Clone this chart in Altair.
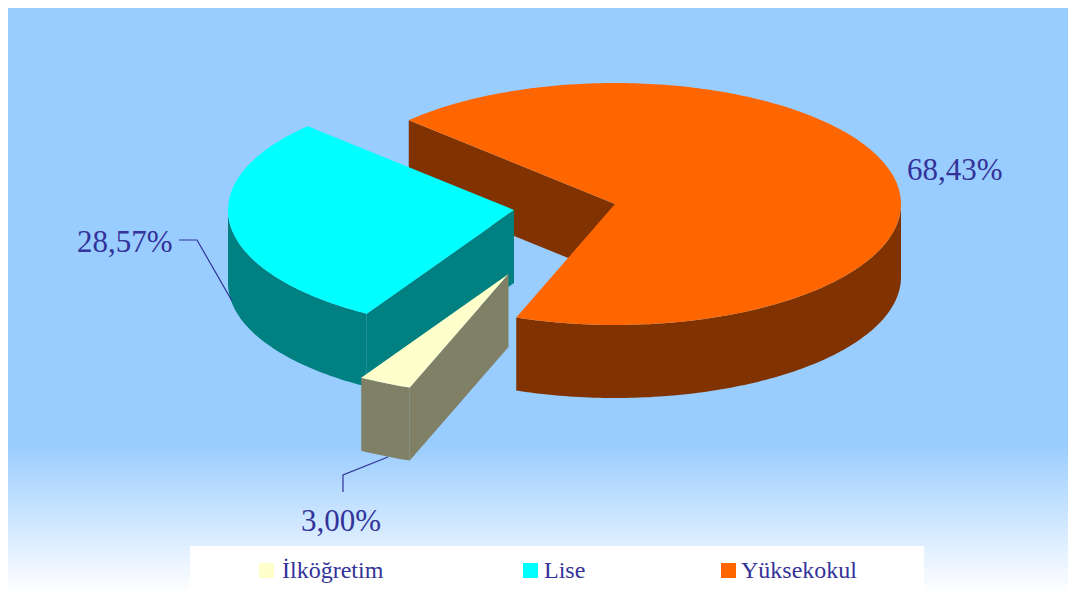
import math
import altair as alt

# ---- values ----
categories = ["İlköğretim", "Lise", "Yüksekokul"]
shares = [3.00, 28.57, 68.43]
labels = ["3,00%", "28,57%", "68,43%"]
top_colors = ["#FFFFCC", "#00FFFF", "#FF6600"]
side_colors = ["#808066", "#008080", "#803300"]

# ---- pie geometry (page pixels minus the 8px page margin) ----
M = 8
RX, RY, DEPTH = 286, 121, 73
START = 136.15  # degrees, counter-clockwise from +x, where Yüksekokul begins
apex = {"Yüksekokul": (615 - M, 204 - M), "Lise": (514 - M, 210 - M), "İlköğretim": (508.5 - M, 274 - M)}
W, H = 1060, 585
INK = "#333399"
FONT = "Liberation Serif"


def pt(c, deg, dy=0):
    a = math.radians(deg)
    return [c[0] + RX * math.cos(a), c[1] - RY * math.sin(a) + dy]


def arc(c, a0, a1, dy=0, step=1.0):
    n = max(2, int(abs(a1 - a0) / step) + 1)
    return [pt(c, a0 + (a1 - a0) * i / (n - 1), dy) for i in range(n)]


def feature(ring, **props):
    ring = [[round(x, 2), round(y, 2)] for x, y in ring]
    ring = ring + [ring[0]]
    return {"type": "Feature", "properties": props, "geometry": {"type": "Polygon", "coordinates": [ring]}}


# angular spans, clockwise, in drawing order of the circle
by = dict(zip(categories, zip(shares, top_colors, side_colors)))
spans = {}
ang = START
for name in ["Yüksekokul", "İlköğretim", "Lise"]:
    sweep = by[name][0] * 3.6
    spans[name] = (ang, ang - sweep)
    ang -= sweep

walls, tops = [], []


def add_wall(ring, col):
    walls.append(feature(ring, fill=col))


# Yüksekokul: back wall seen through the gap, then front rim
c = apex["Yüksekokul"]
a0, a1 = spans["Yüksekokul"]
s = by["Yüksekokul"][2]
p = pt(c, a0)
add_wall([p, c, [c[0], c[1] + DEPTH], [p[0], p[1] + DEPTH]], s)
add_wall(arc(c, a1, 0) + arc(c, 0, a1, DEPTH), s)

# Lise: front rim and cut face
c = apex["Lise"]
a0, a1 = spans["Lise"]
s = by["Lise"][2]
p = pt(c, a0)
add_wall(arc(c, a0, -180) + arc(c, -180, a0, DEPTH), s)
add_wall([c, p, [p[0], p[1] + DEPTH], [c[0], c[1] + DEPTH]], s)

# İlköğretim: cut face and front rim
c = apex["İlköğretim"]
a0, a1 = spans["İlköğretim"]
s = by["İlköğretim"][2]
p = pt(c, a1)
q = pt(c, a0)
add_wall(arc(c, a0, a1) + arc(c, a1, a0, DEPTH), s)
add_wall([c, q, [q[0], q[1] + DEPTH], [c[0], c[1] + DEPTH]], s)

for name, col in zip(categories, top_colors):
    c = apex[name]
    a0, a1 = spans[name]
    tops.append(feature([c] + arc(c, a0, a1), fill=col))

leaders = [
    [[179 - M, 240 - M], [197 - M, 240 - M], [232 - M, 301 - M]],
    [[388 - M, 457 - M], [343 - M, 475 - M], [343 - M, 492 - M]],
]
leader_features = [
    {"type": "Feature", "properties": {}, "geometry": {"type": "LineString", "coordinates": l}} for l in leaders
]

proj = alt.Projection(type="identity", scale=1, translate=[0, 0])


def collection(feats):
    return alt.InlineData(values={"type": "FeatureCollection", "features": feats}, format=alt.DataFormat(property="features"))


one = alt.Data(values=[{"a": 1}])

backdrop = alt.Chart(one).mark_rect(
    color=alt.Gradient(
        gradient="linear", x1=0, x2=0, y1=0, y2=1,
        stops=[
            alt.GradientStop(offset=0, color="#99CCFF"),
            alt.GradientStop(offset=0.745, color="#99CCFF"),
            alt.GradientStop(offset=1, color="#FFFFFF"),
        ],
    )
).encode(x=alt.value(0), x2=alt.value(W), y=alt.value(0), y2=alt.value(H))

band = alt.Chart(one).mark_rect(color="#FFFFFF").encode(
    x=alt.value(190 - M), x2=alt.value(924 - M), y=alt.value(546 - M), y2=alt.value(H - 2)
)

wall_layer = alt.Chart(collection(walls + tops)).mark_geoshape(strokeWidth=0, stroke=None).encode(
    fill=alt.Color("properties.fill:N", scale=None, legend=None),
).project(**proj.to_dict())

leader_layer = alt.Chart(collection(leader_features)).mark_geoshape(
    filled=False, stroke=INK, strokeWidth=1.2
).project(**proj.to_dict())


def label(text, x, y, size=31):
    return alt.Chart(alt.Data(values=[{"t": text}])).mark_text(
        font=FONT, fontSize=size, color=INK, align="left", baseline="alphabetic"
    ).encode(text="t:N", x=alt.value(x - M), y=alt.value(y - M))


def swatch(col, x):
    return alt.Chart(one).mark_rect(color=col).encode(
        x=alt.value(x - M), x2=alt.value(x + 15 - M), y=alt.value(563 - M), y2=alt.value(578 - M)
    )


key = []
for name, col, sx, tx in zip(categories, top_colors, [259, 523, 721], [282, 544, 741]):
    key += [swatch(col, sx), label(name, tx, 578, 24)]

chart = alt.layer(
    backdrop, band, wall_layer, leader_layer,
    label(labels[2], 907, 180), label(labels[1], 77, 252), label(labels[0], 301, 531),
    *key,
).properties(
    width=W, height=H, padding=0, autosize=alt.AutoSizeParams(type="none"),
    background="#FFFFFF",
).configure_view(stroke=None)

chart.save("out.html", embed_options={"renderer": "svg", "actions": False})
